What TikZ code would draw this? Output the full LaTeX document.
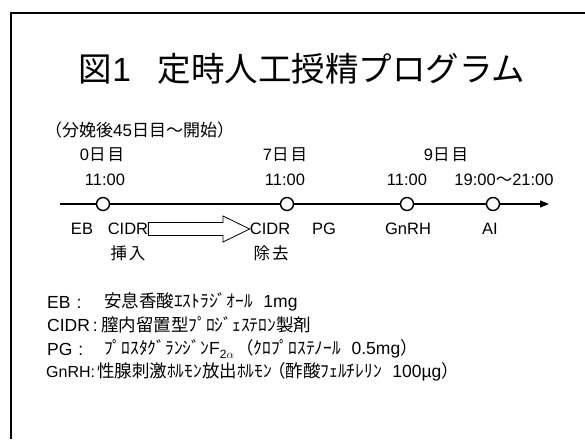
\documentclass[tikz,border=0pt]{standalone}
\usepackage{fontspec}
\setmainfont{Liberation Sans}
\newfontfamily\jp{Noto Sans CJK JP}
\usetikzlibrary{arrows.meta}
\begin{document}
\begin{tikzpicture}[x=1pt,y=-1pt,
  txt/.style={inner sep=0pt, font=\fontsize{16.5}{19}\selectfont},
  leg/.style={inner sep=0pt, anchor=west, font=\fontsize{17.5}{20}\selectfont},
  eventdot/.style={circle, draw, fill=white, line width=1.4pt, minimum size=13pt, inner sep=0pt},
  axisline/.style={line width=1.2pt, -{Triangle[length=9pt,width=7pt]}},
  fat/.style={draw, line width=0.8pt, fill=white}]
\useasboundingbox (0,0) rectangle (585,439);
\draw[line width=2pt] (585,13) -- (11,13) -- (11,439);
\node[inner sep=0pt, font=\fontsize{33.5}{38}\selectfont] (title) at (302,69) {{\jp 図}1\hspace{0.8em}{\jp 定時人工授精プログラム}};
\node[txt, anchor=west, font=\fontsize{17}{20}\selectfont] (sub) at (45,130) {{\jp （分娩後}45{\jp 日目～開始）}};
% timeline
\coordinate (ls) at (60,204);
\coordinate (le) at (549,204);
\draw[axisline] (ls) -- (le);
\node[eventdot] (c0) at (103,204) {};
\node[eventdot] (c7) at (287,204) {};
\node[eventdot] (c9a) at (407,204) {};
\node[eventdot] (c9b) at (493,204) {};
\node[txt] (d0) at (102,155) {0{\jp 日\hspace{2pt}目}};
\node[txt] (d7) at (285,155) {7{\jp 日\hspace{2pt}目}};
\node[txt] (d9) at (446,155) {9{\jp 日\hspace{2pt}目}};
\node[txt] (t0) at (105,180) {11:00};
\node[txt] (t7) at (285,180) {11:00};
\node[txt] (t9a) at (407,180) {11:00};
\node[txt] (t9b) at (504,180) {19:00{\jp ～}21:00};
\node[txt] (eb) at (82,229) {EB};
\node[txt] (cidrA) at (128,229) {CIDR};
\node[txt] (cidrB) at (270,229) {CIDR};
\node[txt] (pg) at (324,229) {PG};
\node[txt] (gnrh) at (408,229) {GnRH};
\node[txt] (ai) at (490,229) {AI};
\node[txt, font=\jp\fontsize{16.5}{19}\selectfont] (ins) at (128,253) {挿\hspace{2pt}入};
\node[txt, font=\jp\fontsize{16.5}{19}\selectfont] (rem) at (271,253) {除\hspace{2pt}去};
% hollow arrow from insertion to removal
\draw[fat] (cidrA.east |- 0,222.5) -- (223,222.5) -- (223,216) -- (cidrB.west |- 0,229) -- (223,242) -- (223,235.5) -- (cidrA.east |- 0,235.5) -- cycle;
% legend
\node[leg] (l1a) at (47,302) {EB\hspace{6pt}:};
\node[leg] (l1b) at (104,302) {{\jp 安息香酸ｴｽﾄﾗｼﾞｵｰﾙ}\hspace{0.6em}1mg};
\node[leg] (l2a) at (47,325) {CIDR\hspace{3pt}:};
\node[leg, font=\jp\fontsize{17.5}{20}\selectfont] (l2b) at (101,325) {膣内留置型ﾌﾟﾛｼﾞｪｽﾃﾛﾝ製剤};
\node[leg] (l3a) at (47,349) {PG\hspace{6pt}:};
\node[leg] (l3b) at (104,349) {{\jp ﾌﾟﾛｽﾀｸﾞﾗﾝｼﾞﾝ}F\raisebox{-4pt}{\fontsize{12}{12}\selectfont 2$\alpha$}\hspace{2pt}{\jp （ｸﾛﾌﾟﾛｽﾃﾉｰﾙ}\hspace{0.6em}0.5mg{\jp ）}};
\node[leg, font=\fontsize{16}{19}\selectfont] (l4a) at (46,372) {GnRH:};
\node[leg] (l4b) at (97,372) {{\jp 性腺刺激ﾎﾙﾓﾝ放出ﾎﾙﾓﾝ\hspace{-4pt}（酢酸ﾌｪﾙﾁﾚﾘﾝ}\hspace{0.6em}100µg{\jp ）}};
\end{tikzpicture}
\end{document}
